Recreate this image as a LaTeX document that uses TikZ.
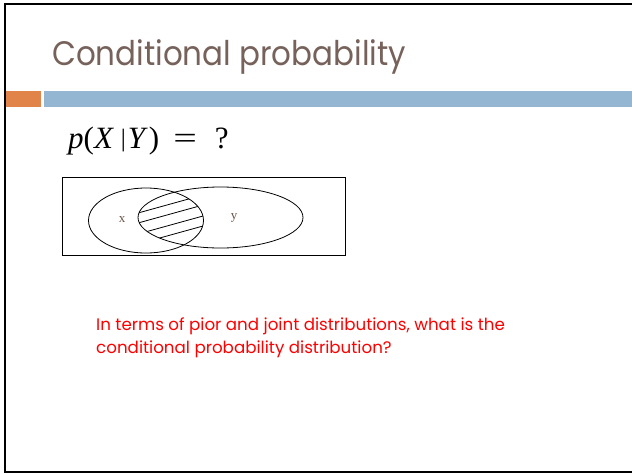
\documentclass[tikz,border=0pt]{standalone}
\usepackage{fontspec}
\usepackage{graphicx}
\newfontfamily\titlefont[FakeStretch=0.91]{Poppins}
\newfontfamily\slidefont{Poppins}
\newfontfamily\serifface{Liberation Serif}
\definecolor{titlebrown}{HTML}{76625A}
\definecolor{labelbrown}{HTML}{6B5548}
\definecolor{barorange}{HTML}{E0844A}
\definecolor{barblue}{HTML}{94B6D2}
\definecolor{notered}{HTML}{FF0000}
\tikzset{
  venn/.style={draw=black,line width=0.8pt},
  hatch/.style={draw=black,line width=0.8pt},
  setlabel/.style={text=labelbrown,inner sep=0pt,font=\serifface\fontsize{13}{15}\selectfont}
}
\begin{document}
\begin{tikzpicture}[x=1pt,y=-1pt]
\useasboundingbox (0,0) rectangle (632,474);
\fill[white] (0,0) rectangle (632,474);
\draw[line width=2pt] (632,4) -- (5,4) -- (5,472) -- (632,472);

\node[anchor=base west,inner sep=0pt,text=titlebrown,font=\titlefont\fontsize{34}{40}\selectfont] (title) at (52,65) {Conditional probability};
\fill[barorange] (6,91) rectangle (41,107);
\fill[barblue] (44,91) rectangle (632,107);

\node[anchor=base west,inner sep=0pt,font=\serifface\fontsize{31}{34}\selectfont] (formula) at (68,148) {\textit{p}(\textit{X}\hspace{7pt}\raisebox{1.5pt}{\fontsize{25}{25}\selectfont|}\hspace{2pt}\textit{Y}\hspace{1pt})\hspace{14pt}\scalebox{1.35}[1]{=}\hspace{18pt}?};

\draw[venn] (62,177) rectangle (345,255);
\begin{scope}
\clip (146,220.5) ellipse [x radius=57.5,y radius=32.5];
\clip (220.5,217.5) ellipse [x radius=82.5,y radius=30.5];
\foreach \d in {218,228,239,249}
  \draw[hatch] (120,\d) -- ++(100,-27.7);
\end{scope}
\draw[venn] (146,220.5) ellipse [x radius=57.5,y radius=32.5];
\draw[venn] (220.5,217.5) ellipse [x radius=82.5,y radius=30.5];
\node[setlabel] (xlabel) at (122,220) {x};
\node[setlabel] (ylabel) at (234,218) {y};

\node[anchor=base west,inner sep=0pt,align=left,text=notered,font=\slidefont\fontsize{16.7}{23}\selectfont] (question) at (96,353) {In terms of pior and joint distributions, what is the\\conditional probability distribution?};
\end{tikzpicture}
\end{document}
